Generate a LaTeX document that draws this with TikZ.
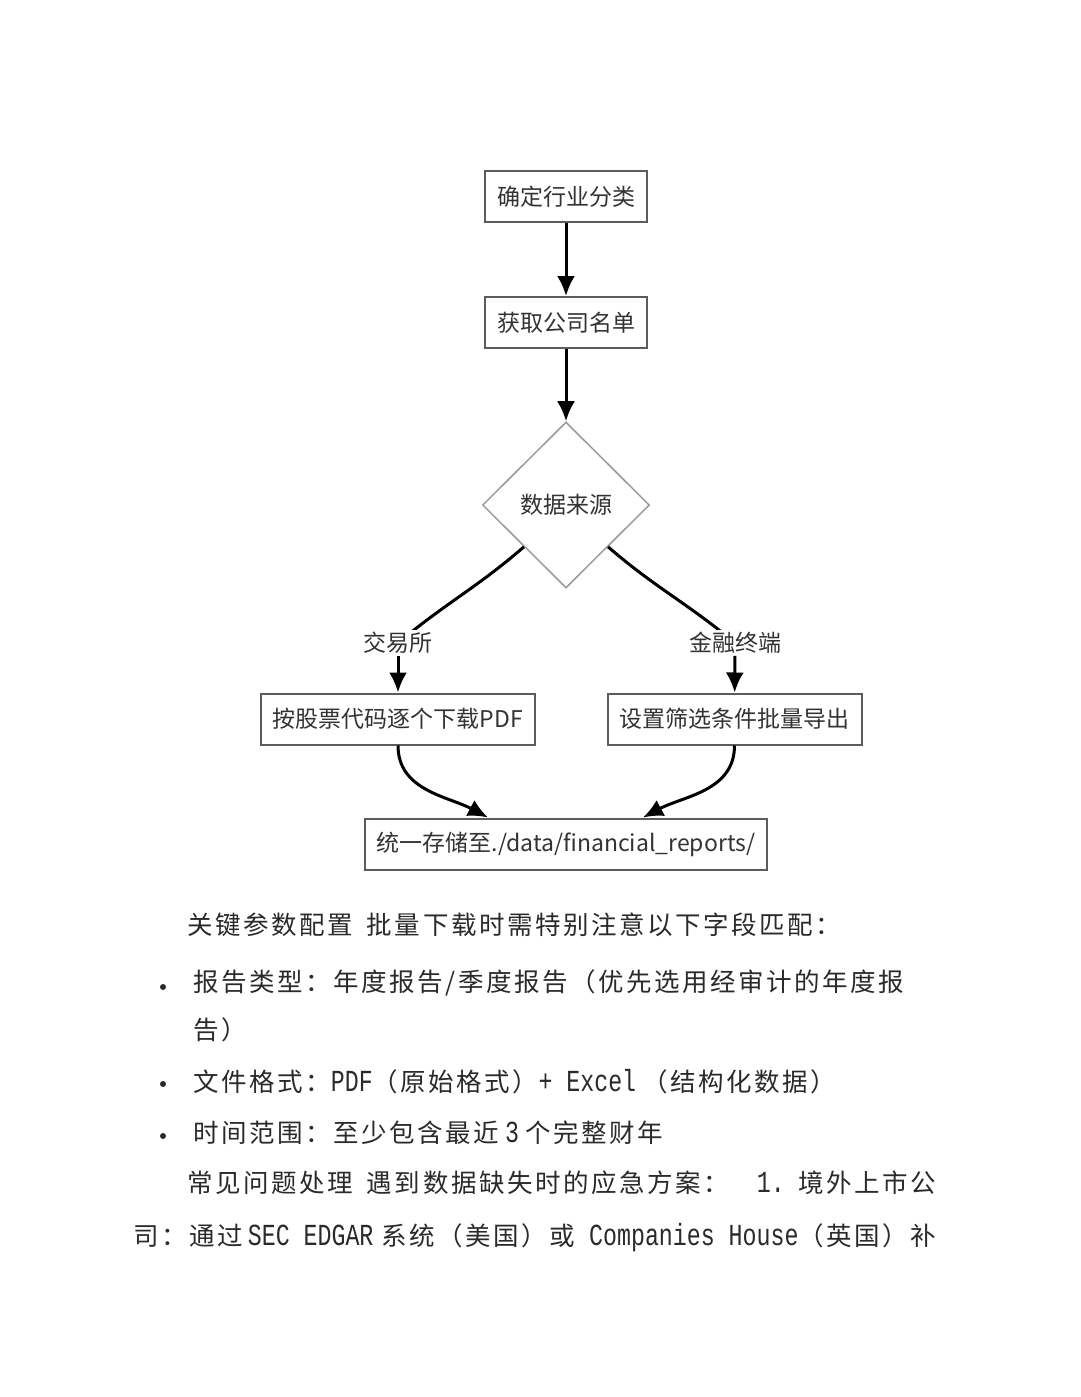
\documentclass[tikz,border=0pt]{standalone}
\usepackage{fontspec}
\newfontfamily\cjk{Noto Sans CJK SC}
\newfontfamily\bodycjk[LetterSpace=10]{Noto Sans CJK SC}
\newfontfamily\bodylat[Scale=1.2, FakeStretch=0.76]{Liberation Mono}
\newcommand\lat[1]{{\bodylat #1}}
\usetikzlibrary{arrows.meta}
\usetikzlibrary{shapes.geometric}
\definecolor{boxgray}{HTML}{5C5C5C}
\definecolor{diagray}{HTML}{9A9A9A}
\definecolor{labelgray}{HTML}{333333}
\definecolor{bodyblack}{HTML}{2A2A2A}

\begin{document}
\begin{tikzpicture}[
      x = 1pt, y = 1pt,
      >={Latex[length=20pt, width=18pt]},
      procbox/.style = {
        rectangle, draw = boxgray, line width = 2pt,
        minimum height = 51pt, inner xsep = 12pt,
        font = \cjk\fontsize{23}{26}\selectfont, text = labelgray
      },
      decision/.style = {
        diamond, aspect = 1, draw = diagray, line width = 1.5pt,
        minimum width = 167pt, minimum height = 166pt, inner sep = 0pt,
        font = \cjk\fontsize{23}{26}\selectfont, text = labelgray
      },
      edgelabel/.style = {
        fill = white, inner sep = 2pt,
        font = \cjk\fontsize{23}{26}\selectfont, text = labelgray
      },
      flow/.style = { line width = 3pt, -> },
      link/.style = { line width = 3pt },
      bodyline/.style = {
        anchor = west, inner sep = 0pt,
        font = \bodycjk\fontsize{25.5}{28}\selectfont, text = bodyblack
      },
      dot/.style = { circle, fill = bodyblack, inner sep = 0pt, minimum size = 6pt },
    ]
    \useasboundingbox[fill = white] (0,0) rectangle (1080,-1397);

    \node[procbox] (classify) at (566,-196.5) {确定行业分类};
    \node[procbox] (companies) at (566,-322.5) {获取公司名单};
    \node[decision] (source) at (566,-505) {数据来源};
    \node[procbox] (bycode) at (398,-719) {按股票代码逐个下载PDF};
    \node[procbox] (batch) at (734.5,-719) {设置筛选条件批量导出};
    \node[procbox] (store) at (566,-844) {统一存储至./data/financial\_reports/};

    \draw[flow] (classify) -- (companies);
    \draw[flow] (companies) -- (source);
    \draw[link] (source.south west) to[out=-139, in=40] (398,-643) coordinate (exchmid);
    \draw[link] (source.south east) to[out=-41, in=140] (735,-643) coordinate (termmid);
    \node[edgelabel] (exch) at (exchmid) {交易所};
    \node[edgelabel] (term) at (termmid) {金融终端};
    \draw[flow] (exch) -- (bycode);
    \draw[flow] (term) -- (batch);
    \draw[flow] (bycode) to[out=-90, in=152] ([xshift=-78pt]store.north);
    \draw[flow] (batch) to[out=-90, in=28] ([xshift=77pt]store.north);

    \node[bodyline] (keyhead) at (187,-925) {关键参数配置\lat{\ }批量下载时需特别注意以下字段匹配：};
    \node[dot] (b1) at (163,-987) {};
    \node[bodyline] (rtype) at (193,-983) {报告类型：年度报告/季度报告（优先选用经审计的年度报};
    \node[bodyline] (rtype2) at (193,-1030) {告）};
    \node[dot] (b2) at (163,-1084) {};
    \node[bodyline] (fmt) at (193,-1082) {文件格式：\lat{PDF}（原始格式）\lat{+\ Excel}\hspace{6pt}（结构化数据）};
    \node[dot] (b3) at (163,-1136) {};
    \node[bodyline] (span) at (193,-1133) {时间范围：至少包含最近\hspace{6pt}\lat{3}\hspace{6pt}个完整财年};
    \node[bodyline] (faq) at (187,-1183) {常见问题处理\lat{\ }遇到数据缺失时的应急方案：\lat{\ \ 1.\ }境外上市公};
    \node[bodyline] (faq2) at (133,-1238) {司：通过\hspace{5pt}\lat{SEC\ EDGAR}\hspace{8pt}系统（美国）或\lat{\ Companies\ House}（英国）补};
  \end{tikzpicture}
\end{document}
